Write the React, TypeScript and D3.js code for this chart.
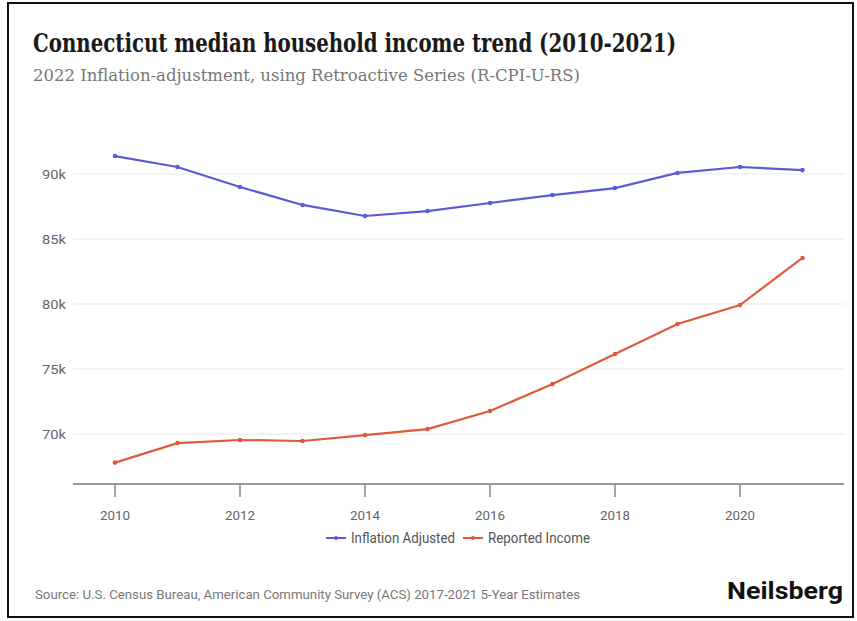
import React from "react";
import * as d3 from "d3";

const years = [2010, 2011, 2012, 2013, 2014, 2015, 2016, 2017, 2018, 2019, 2020, 2021];
const inflationAdjusted = [91380, 90540, 89000, 87620, 86770, 87150, 87770, 88380, 88920, 90080, 90540, 90300];
const reportedIncome = [67800, 69300, 69540, 69460, 69920, 70380, 71770, 73850, 76150, 78460, 79920, 83540];
const yTicks = [70000, 75000, 80000, 85000, 90000];
const xTicks = [2010, 2012, 2014, 2016, 2018, 2020];

const W = 857;
const H = 621;

export default function App() {
  const x = d3.scaleLinear().domain([2010, 2020]).range([115, 740]);
  const y = d3.scaleLinear().domain([70000, 90000]).range([434, 174]);
  const yBase = 484;
  const xLeft = 73;
  const xRight = 844;
  const line = d3
    .line<number>()
    .x((_, i) => x(years[i]))
    .y((d) => y(d));
  const series = [
    { name: "Inflation Adjusted", data: inflationAdjusted, color: "#5b5bd6" },
    { name: "Reported Income", data: reportedIncome, color: "#de5a3a" },
  ];
  const sans = "Roboto, 'Noto Sans', sans-serif";
  const serif = "'DejaVu Serif Condensed', 'DejaVu Serif', serif";
  return (
    <svg width={W} height={H} style={{ position: "absolute", left: 0, top: 0, background: "#fff" }}>
      <rect x={0} y={0} width={W} height={H} fill="#fff" />
      <rect x={8} y={3} width={845} height={614} fill="none" stroke="#111" strokeWidth={2} />
      <text x={33} y={52} fontFamily={serif} fontWeight="bold" fontSize={25.5} fill="#1a1a1a" textLength={643} lengthAdjust="spacingAndGlyphs">
        Connecticut median household income trend (2010-2021)
      </text>
      <text x={33} y={81} fontFamily={serif} fontSize={17} fill="#777" textLength={547} lengthAdjust="spacingAndGlyphs">
        2022 Inflation-adjustment, using Retroactive Series (R-CPI-U-RS)
      </text>
      {yTicks.map((t) => (
        <g key={t}>
          <line x1={xLeft} x2={xRight} y1={y(t)} y2={y(t)} stroke="#f0f0f0" strokeWidth={1.5} />
          <text x={66} y={y(t) + 5} textAnchor="end" fontFamily={sans} fontSize={13.5} fill="#666" textLength={24} lengthAdjust="spacingAndGlyphs">
            {t / 1000}k
          </text>
        </g>
      ))}
      <line x1={xLeft} x2={xRight} y1={yBase} y2={yBase} stroke="#999" strokeWidth={2} />
      {xTicks.map((t) => (
        <g key={t}>
          <line x1={x(t)} x2={x(t)} y1={yBase} y2={yBase + 13} stroke="#888" strokeWidth={1.5} />
          <text x={x(t)} y={520} textAnchor="middle" fontFamily={sans} fontSize={13.5} fill="#666" textLength={30} lengthAdjust="spacingAndGlyphs">
            {t}
          </text>
        </g>
      ))}
      {series.map((s) => (
        <g key={s.name}>
          <path d={line(s.data) || ""} fill="none" stroke={s.color} strokeWidth={2.2} />
          {s.data.map((v, i) => (
            <circle key={i} cx={x(years[i])} cy={y(v)} r={2.3} fill={s.color} />
          ))}
        </g>
      ))}
      <g>
        <line x1={326} x2={346} y1={538} y2={538} stroke={series[0].color} strokeWidth={2} />
        <circle cx={336} cy={538} r={2} fill={series[0].color} />
        <text x={351} y={543} fontFamily={sans} fontSize={14} fill="#555" textLength={104} lengthAdjust="spacingAndGlyphs">
          Inflation Adjusted
        </text>
        <line x1={463} x2={483} y1={538} y2={538} stroke={series[1].color} strokeWidth={2} />
        <circle cx={473} cy={538} r={2} fill={series[1].color} />
        <text x={488} y={543} fontFamily={sans} fontSize={14} fill="#555" textLength={102} lengthAdjust="spacingAndGlyphs">
          Reported Income
        </text>
      </g>
      <text x={35} y={599} fontFamily={sans} fontSize={13} fill="#777" textLength={545} lengthAdjust="spacingAndGlyphs">
        Source: U.S. Census Bureau, American Community Survey (ACS) 2017-2021 5-Year Estimates
      </text>
      <text x={843} y={599} textAnchor="end" fontFamily={sans} fontWeight="bold" fontSize={23} fill="#111" textLength={116} lengthAdjust="spacingAndGlyphs">
        Neilsberg
      </text>
    </svg>
  );
}
